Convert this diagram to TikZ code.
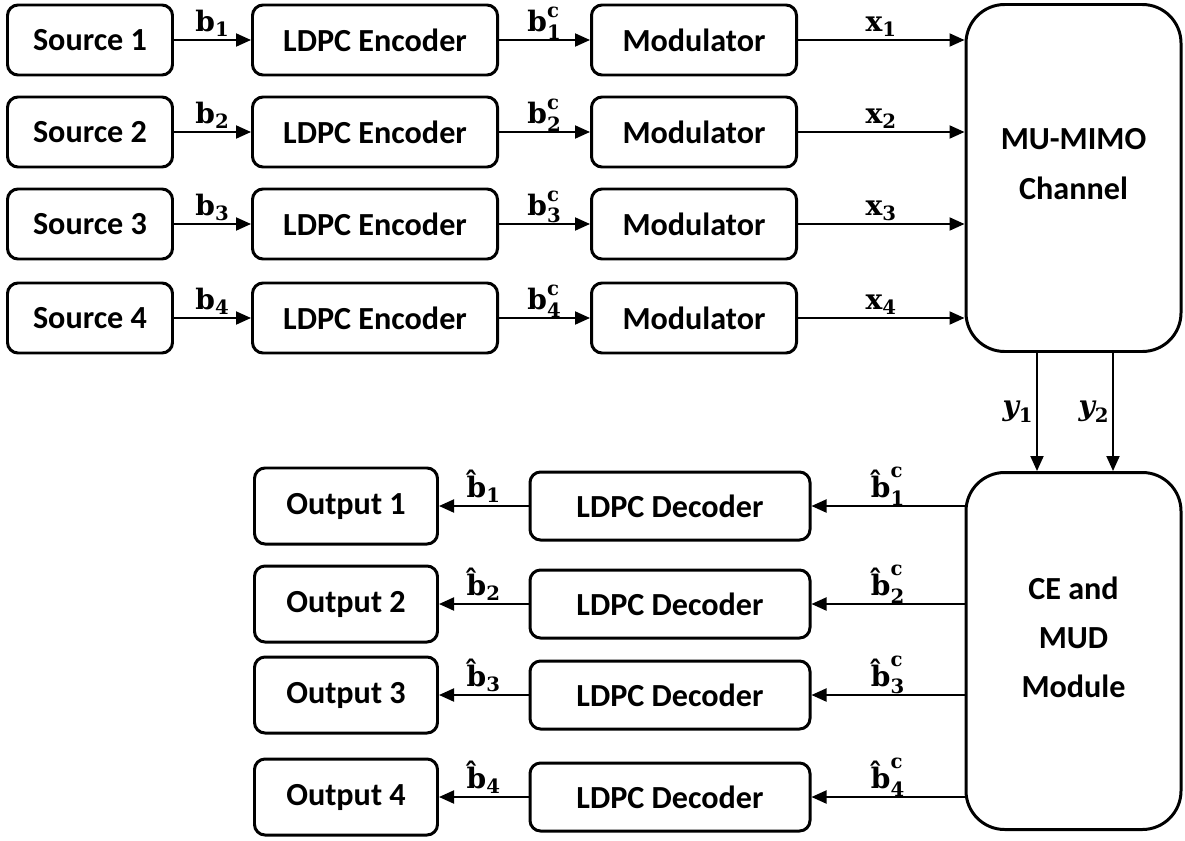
\documentclass[tikz,border=0pt]{standalone}
\usepackage{amsmath}
\usepackage{fontspec}
\setmainfont{Carlito}
\setmathrm{DejaVu Serif}
\newfontfamily\lblserif{DejaVu Serif}
\newcommand{\sym}[1]{\text{\lblserif\bfseries #1}}
\usepackage{tikz}
\usetikzlibrary{arrows.meta,positioning}

\begin{document}
\begin{tikzpicture}[
  font=\fontsize{18.3}{21}\selectfont\bfseries,
  block/.style={draw, rounded corners=6pt, line width=1.7pt, minimum width=#1, minimum height=1.4cm, inner sep=2pt},
  bigblock/.style={draw, rounded corners=22pt, line width=1.7pt, minimum width=4.3cm, align=center},
  arrow/.style={-{Triangle[length=3mm, width=2.6mm]}, line width=1.1pt},
  lbl/.style={above, inner sep=1.5pt, font=\fontsize{16}{18}\selectfont}
]
\useasboundingbox (0,0) rectangle (23.7,-16.8);
% transmitter side
\node[block=3.3cm] (src1) at (1.8,-0.8) {Source 1};
\node[block=3.3cm] (src2) at (1.8,-2.64) {Source 2};
\node[block=3.3cm] (src3) at (1.8,-4.48) {Source 3};
\node[block=3.3cm] (src4) at (1.8,-6.36) {Source 4};
\node[block=4.9cm] (enc1) at (7.5,-0.8) {LDPC Encoder};
\node[block=4.9cm] (enc2) at (7.5,-2.64) {LDPC Encoder};
\node[block=4.9cm] (enc3) at (7.5,-4.48) {LDPC Encoder};
\node[block=4.9cm] (enc4) at (7.5,-6.36) {LDPC Encoder};
\node[block=4.1cm] (mod1) at (13.88,-0.8) {Modulator};
\node[block=4.1cm] (mod2) at (13.88,-2.64) {Modulator};
\node[block=4.1cm] (mod3) at (13.88,-4.48) {Modulator};
\node[block=4.1cm] (mod4) at (13.88,-6.36) {Modulator};
\node[bigblock, minimum height=6.94cm] (chan) at (21.47,-3.56) {MU-MIMO\\[7pt]Channel\\[-5pt]};
% receiver side
\node[bigblock, minimum height=7.14cm] (ce) at (21.47,-13.02) {CE and\\[7pt]MUD\\[7pt]Module\\[-5pt]};
\node[block=5.6cm, minimum height=1.36cm] (dec1) at (13.4,-10.12) {LDPC Decoder};
\node[block=5.6cm, minimum height=1.36cm] (dec2) at (13.4,-12.08) {LDPC Decoder};
\node[block=5.6cm, minimum height=1.36cm] (dec3) at (13.4,-13.9) {LDPC Decoder};
\node[block=5.6cm, minimum height=1.36cm] (dec4) at (13.4,-15.94) {LDPC Decoder};
\node[block=3.66cm, minimum height=1.52cm] (out1) at (6.92,-10.12) {Output 1};
\node[block=3.66cm, minimum height=1.52cm] (out2) at (6.92,-12.08) {Output 2};
\node[block=3.66cm, minimum height=1.52cm] (out3) at (6.92,-13.9) {Output 3};
\node[block=3.66cm, minimum height=1.52cm] (out4) at (6.92,-15.94) {Output 4};
\coordinate (y1x) at (20.74,0);
\coordinate (y2x) at (22.26,0);

\draw[arrow] (src1) -- node[lbl] {$\sym{b}_{\mathbf{1}}$} (enc1);
\draw[arrow] (src2) -- node[lbl] {$\sym{b}_{\mathbf{2}}$} (enc2);
\draw[arrow] (src3) -- node[lbl] {$\sym{b}_{\mathbf{3}}$} (enc3);
\draw[arrow] (src4) -- node[lbl] {$\sym{b}_{\mathbf{4}}$} (enc4);
\draw[arrow] (enc1) -- node[lbl, inner sep=0pt] {$\sym{b}^{\mathbf{c}}_{\mathbf{1}}$} (mod1);
\draw[arrow] (enc2) -- node[lbl, inner sep=0pt] {$\sym{b}^{\mathbf{c}}_{\mathbf{2}}$} (mod2);
\draw[arrow] (enc3) -- node[lbl, inner sep=0pt] {$\sym{b}^{\mathbf{c}}_{\mathbf{3}}$} (mod3);
\draw[arrow] (enc4) -- node[lbl, inner sep=0pt] {$\sym{b}^{\mathbf{c}}_{\mathbf{4}}$} (mod4);
\draw[arrow] (mod1) -- node[lbl] {$\sym{x}_{\mathbf{1}}$} (mod1 -| chan.west);
\draw[arrow] (mod2) -- node[lbl] {$\sym{x}_{\mathbf{2}}$} (mod2 -| chan.west);
\draw[arrow] (mod3) -- node[lbl] {$\sym{x}_{\mathbf{3}}$} (mod3 -| chan.west);
\draw[arrow] (mod4) -- node[lbl] {$\sym{x}_{\mathbf{4}}$} (mod4 -| chan.west);
\draw[arrow] (chan.south -| y1x) -- node[lbl, left] {$\sym{\itshape y}_{\mathbf{1}}$} (ce.north -| y1x);
\draw[arrow] (chan.south -| y2x) -- node[lbl, left] {$\sym{\itshape y}_{\mathbf{2}}$} (ce.north -| y2x);
\draw[arrow] (ce.west |- dec1) -- node[lbl, inner sep=0pt] {$\sym{\^{b}}^{\mathbf{c}}_{\mathbf{1}}$} (dec1);
\draw[arrow] (ce.west |- dec2) -- node[lbl, inner sep=0pt] {$\sym{\^{b}}^{\mathbf{c}}_{\mathbf{2}}$} (dec2);
\draw[arrow] (ce.west |- dec3) -- node[lbl, inner sep=0pt] {$\sym{\^{b}}^{\mathbf{c}}_{\mathbf{3}}$} (dec3);
\draw[arrow] (ce.west |- dec4) -- node[lbl, inner sep=0pt] {$\sym{\^{b}}^{\mathbf{c}}_{\mathbf{4}}$} (dec4);
\draw[arrow] (dec1) -- node[lbl] {$\sym{\^{b}}_{\mathbf{1}}$} (out1);
\draw[arrow] (dec2) -- node[lbl] {$\sym{\^{b}}_{\mathbf{2}}$} (out2);
\draw[arrow] (dec3) -- node[lbl] {$\sym{\^{b}}_{\mathbf{3}}$} (out3);
\draw[arrow] (dec4) -- node[lbl] {$\sym{\^{b}}_{\mathbf{4}}$} (out4);
\end{tikzpicture}
\end{document}
